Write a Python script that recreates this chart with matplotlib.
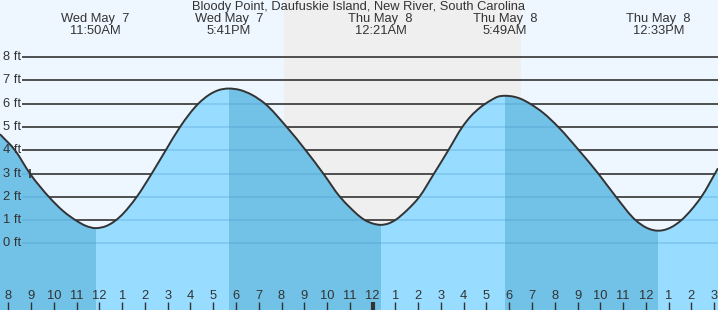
import matplotlib
matplotlib.use("Agg")
import matplotlib.pyplot as plt
import numpy as np
from matplotlib.path import Path
from matplotlib.patches import PathPatch

plt.rcParams['font.family'] = ['Liberation Sans', 'DejaVu Sans']

title = "Bloody Point, Daufuskie Island, New River, South Carolina"

# tide height (ft), time in hours since Wed 00:00
tide_t = [7.635, 8.294, 8.953, 9.831, 10.4, 11.004, 11.4, 11.833, 12.3, 12.6, 12.905,
          13.639, 14.298, 14.913, 15.541, 16.344, 16.8, 17.2, 17.683, 18.166, 18.7,
          19.273, 20.226, 21.061, 21.834, 22.568, 23.0, 23.446, 23.665, 24.0, 24.35,
          24.7, 24.983, 25.5, 26.05, 26.696, 27.324, 27.939, 28.3, 28.716, 29.2, 29.5,
          29.817, 30.2, 30.5, 30.912, 31.5, 32.155, 33.06, 33.911, 34.69, 35.55,
          36.0, 36.3, 36.55, 36.8, 37.1, 37.557, 38.0, 38.435, 39.168]
tide_h = [4.69, 4.0, 3.0, 1.95, 1.4, 0.97, 0.76, 0.66, 0.75, 0.91, 1.15,
          2.0, 3.0, 4.0, 5.0, 6.0, 6.37, 6.57, 6.65, 6.59, 6.38,
          6.0, 5.0, 4.0, 3.0, 2.0, 1.55, 1.15, 1.0, 0.86, 0.8,
          0.86, 1.0, 1.42, 2.0, 3.0, 4.0, 5.0, 5.45, 5.83, 6.15, 6.30,
          6.34, 6.30, 6.21, 6.0, 5.6, 5.0, 4.0, 3.0, 2.0, 1.0,
          0.69, 0.58, 0.55, 0.58, 0.69, 1.0, 1.45, 2.0, 3.23]

# high / low events
event_t = [11.833, 17.683, 24.35, 29.817, 36.55]
event_day = ["Wed May  7", "Wed May  7", "Thu May  8", "Thu May  8", "Thu May  8"]
event_time = ["11:50AM", "5:41PM", "12:21AM", "5:49AM", "12:33PM"]

# falling tide segments (darker fill)
falling = [(7.635, 11.833), (17.683, 24.35), (29.817, 36.55)]
night = (20.10, 30.52)

hours = list(range(8, 40))
hour_labels = [str((h - 1) % 12 + 1) for h in hours]
ft_levels = list(range(0, 9))
now_t, now_h = 8.953, 3.0

x0, x1 = 7.635, 39.168
y0, y1 = -2.854, 10.45
fs = 9.3
txt = '#333333'

fig = plt.figure(figsize=(7.18, 3.10), dpi=100)
ax = fig.add_axes([0, 0, 1, 1])
ax.set_xlim(x0, x1)
ax.set_ylim(y0, y1)
ax.axis('off')
ax.add_patch(plt.Rectangle((x0, y0), x1 - x0, y1 - y0, color='#eef7ff', zorder=0))
ax.axvspan(night[0], night[1], color='#efefef', zorder=0.5, lw=0)

t = np.array(tide_t)
h = np.array(tide_h)

# smooth bezier path through the read points (flat tangent at highs/lows)
slope = np.gradient(h, t)
for et in event_t:
    slope[np.argmin(np.abs(t - et))] = 0.0
verts = [(t[0], h[0])]
codes = [Path.MOVETO]
for i in range(len(t) - 1):
    dt = t[i + 1] - t[i]
    verts += [(t[i] + dt / 3, h[i] + slope[i] * dt / 3),
              (t[i + 1] - dt / 3, h[i + 1] - slope[i + 1] * dt / 3),
              (t[i + 1], h[i + 1])]
    codes += [Path.CURVE4] * 3
curve = Path(verts, codes)
water = Path(verts + [(t[-1], y0), (t[0], y0), (t[0], h[0])],
             codes + [Path.LINETO, Path.LINETO, Path.CLOSEPOLY])

# grid lines
ax.hlines(ft_levels, 22 / 718, 1, transform=ax.get_yaxis_transform(),
          color='#333333', lw=1.2, zorder=1)

# water fill
wpatch = PathPatch(water, facecolor='#98dcff', edgecolor='none', zorder=2)
ax.add_patch(wpatch)
for a, b in falling:
    sp = ax.axvspan(a, b, color='#72c1e7', lw=0, zorder=2.1)
    sp.set_clip_path(wpatch)

inner = ax.hlines(ft_levels, 22 / 718, 1, transform=ax.get_yaxis_transform(),
                  color='#3b8fc4', lw=1.2, alpha=0.28, zorder=2.5)
inner.set_clip_path(wpatch)

ax.add_patch(PathPatch(curve, facecolor='none', edgecolor='#333333', lw=1.4, zorder=3))
ax.vlines(now_t, now_h - 0.2, now_h + 0.2, color='#333333', lw=1.2, zorder=3)

for lv in ft_levels:
    ax.text(3 / 718, lv, f"{lv} ft", transform=ax.get_yaxis_transform(),
            ha='left', va='center', fontsize=fs, color=txt, zorder=4)

# header
ax.text(0.5, 1 - 7 / 310, title, transform=ax.transAxes, ha='center', va='center',
        fontsize=fs, color=txt)
for et, d, tm in zip(event_t, event_day, event_time):
    ax.text(et, 1 - 19 / 310, d, transform=ax.get_xaxis_transform(), ha='center',
            va='center', fontsize=fs, color=txt)
    ax.text(et, 1 - 31 / 310, tm, transform=ax.get_xaxis_transform(), ha='center',
            va='center', fontsize=fs, color=txt)

# hour axis
ax.vlines(hours, 0, 8 / 310, transform=ax.get_xaxis_transform(), color='#333333', lw=1, zorder=4)
ax.vlines([24], 0, 8 / 310, transform=ax.get_xaxis_transform(), color='#333333', lw=3, zorder=4)
for hr, lab in zip(hours, hour_labels):
    ax.text(hr, 14 / 310, lab, transform=ax.get_xaxis_transform(), ha='center',
            va='center', fontsize=fs, color=txt, zorder=4)

fig.savefig("out.png", dpi=100)
